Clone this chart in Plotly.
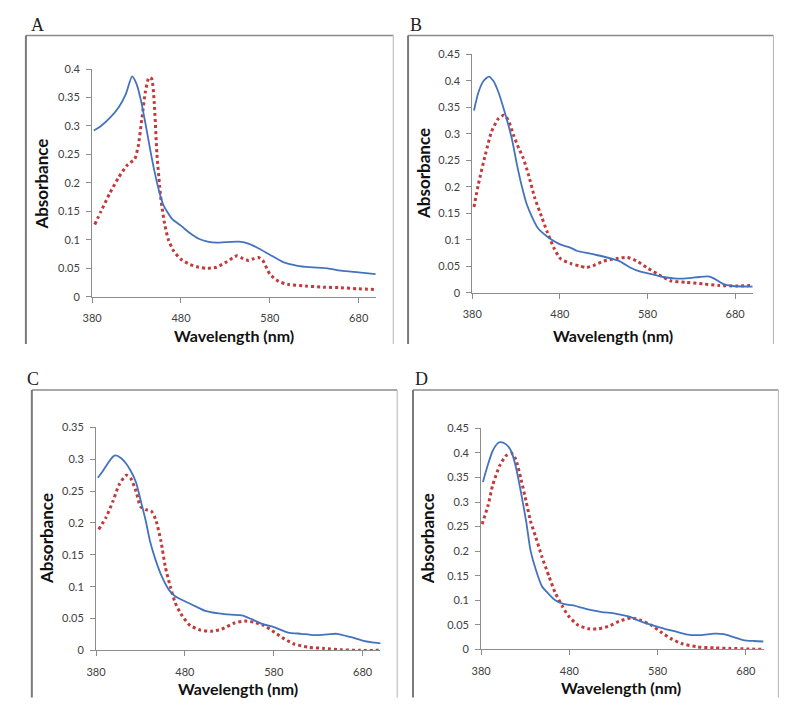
import plotly.graph_objects as go

# ---------------- data ----------------
A_blue_wl = [382, 390, 400, 410, 418, 425, 430, 435, 440, 445, 450, 455, 460, 470, 480, 490, 500, 510, 520, 530, 545, 555, 565, 580, 595, 610, 625, 645, 660, 680, 699]
A_blue = [0.292, 0.300, 0.314, 0.333, 0.356, 0.387, 0.374, 0.345, 0.305, 0.262, 0.222, 0.188, 0.162, 0.137, 0.125, 0.112, 0.102, 0.097, 0.095, 0.096, 0.097, 0.094, 0.087, 0.074, 0.061, 0.055, 0.052, 0.050, 0.046, 0.043, 0.040]
A_red_wl = [383, 390, 400, 410, 420, 428, 432, 436, 440, 444, 447, 450, 453, 456, 458, 462, 466, 472, 480, 490, 500, 508, 520, 532, 543, 550, 556, 562, 567, 572, 580, 590, 600, 620, 640, 660, 680, 699]
A_red = [0.127, 0.150, 0.182, 0.210, 0.232, 0.242, 0.265, 0.312, 0.360, 0.385, 0.383, 0.340, 0.250, 0.195, 0.165, 0.125, 0.100, 0.080, 0.066, 0.057, 0.052, 0.050, 0.052, 0.062, 0.072, 0.067, 0.064, 0.067, 0.069, 0.064, 0.040, 0.027, 0.022, 0.019, 0.017, 0.016, 0.014, 0.013]

B_blue_wl = [382, 387, 393, 399, 404, 410, 417, 425, 431, 436, 442, 448, 455, 465, 474, 481, 491, 500, 512, 523, 538, 549, 560, 572, 583, 598, 613, 628, 639, 649, 655, 666, 677, 700]
B_blue = [0.344, 0.378, 0.400, 0.408, 0.400, 0.378, 0.341, 0.292, 0.242, 0.205, 0.168, 0.144, 0.122, 0.107, 0.097, 0.091, 0.086, 0.079, 0.075, 0.071, 0.065, 0.059, 0.048, 0.040, 0.036, 0.030, 0.027, 0.028, 0.030, 0.031, 0.028, 0.017, 0.013, 0.012]
B_red_wl = [382, 387, 395, 402, 410, 416, 421, 427, 433, 438, 444, 451, 459, 466, 474, 481, 493, 502, 510, 519, 530, 545, 557, 568, 579, 591, 606, 624, 643, 662, 681, 700]
B_red = [0.162, 0.205, 0.261, 0.304, 0.329, 0.335, 0.326, 0.298, 0.273, 0.255, 0.224, 0.181, 0.144, 0.113, 0.082, 0.064, 0.055, 0.051, 0.048, 0.052, 0.060, 0.065, 0.067, 0.060, 0.048, 0.036, 0.023, 0.020, 0.017, 0.014, 0.013, 0.014]

C_blue_wl = [382, 387, 393, 399, 402, 408, 414, 419, 425, 430, 436, 441, 447, 454, 462, 469, 480, 492, 503, 518, 532, 544, 555, 566, 581, 596, 611, 625, 640, 651, 666, 681, 689, 701]
C_blue = [0.271, 0.280, 0.293, 0.304, 0.306, 0.302, 0.293, 0.282, 0.264, 0.237, 0.203, 0.170, 0.142, 0.116, 0.095, 0.085, 0.077, 0.069, 0.062, 0.058, 0.056, 0.055, 0.049, 0.042, 0.036, 0.028, 0.026, 0.024, 0.025, 0.026, 0.021, 0.015, 0.013, 0.011]
C_red_wl = [383, 391, 399, 406, 414, 419, 425, 430, 436, 442, 447, 453, 458, 464, 469, 477, 486, 497, 510, 521, 536, 547, 558, 569, 581, 592, 603, 618, 637, 655, 677, 701]
C_red = [0.190, 0.208, 0.234, 0.260, 0.275, 0.270, 0.250, 0.226, 0.221, 0.219, 0.206, 0.172, 0.131, 0.098, 0.075, 0.054, 0.039, 0.032, 0.030, 0.033, 0.043, 0.046, 0.044, 0.039, 0.028, 0.018, 0.010, 0.005, 0.003, 0.001, 0.000, 0.000]

D_blue_wl = [382, 388, 393, 399, 402, 408, 414, 419, 425, 431, 436, 442, 449, 457, 464, 474, 483, 494, 505, 517, 532, 547, 558, 569, 584, 599, 614, 629, 644, 655, 666, 677, 689, 700]
D_blue = [0.341, 0.378, 0.404, 0.420, 0.422, 0.418, 0.404, 0.374, 0.321, 0.261, 0.201, 0.162, 0.128, 0.112, 0.100, 0.092, 0.090, 0.085, 0.080, 0.076, 0.073, 0.067, 0.059, 0.052, 0.044, 0.037, 0.030, 0.029, 0.032, 0.031, 0.025, 0.019, 0.017, 0.016]
D_red_wl = [381, 388, 393, 401, 408, 414, 419, 425, 431, 436, 442, 449, 457, 464, 472, 479, 490, 502, 513, 524, 539, 550, 561, 573, 584, 595, 607, 625, 644, 663, 681, 700]
D_red = [0.255, 0.294, 0.334, 0.374, 0.394, 0.400, 0.388, 0.348, 0.301, 0.261, 0.228, 0.188, 0.148, 0.115, 0.088, 0.068, 0.049, 0.042, 0.042, 0.047, 0.059, 0.064, 0.059, 0.049, 0.035, 0.022, 0.012, 0.005, 0.003, 0.002, 0.001, 0.000]

panel_labels = ["A", "B", "C", "D"]
y_max = [0.4, 0.45, 0.35, 0.45]
x_ticks = [380, 480, 580, 680]
x_title = "Wavelength (nm)"
y_title = "Absorbance"

# ---------------- layout geometry (pixels in the target picture) ----------------
W, H = 800, 722
OFF = 8  # the page body adds an 8px margin, compensate for it
plot_px = [  # x0, x1, ytop, ybottom of plotting area
    (83, 371, 63, 295),
    (468, 752, 48, 291),
    (87, 375, 428, 655),
    (477, 763, 429, 654),
]
frame_px = [  # left, right, top, bottom
    (16, 388, 29, 343),
    (403, 773, 29, 343),
    (22, 392, 390, 703),
    (408, 778, 390, 703),
]
label_px = [(28, 18), (411, 18), (23, 379), (417, 379)]
xtitle_px = [(227, 334), (611, 334), (231, 694), (619, 693)]
ytitle_px = [(32, 180), (418, 169), (37, 541), (423, 541)]

BLUE = "#4473be"
RED = "#c4393a"
AXIS = "#8c8c8c"
TXT = "#404040"

series = [
    (A_blue_wl, A_blue, A_red_wl, A_red),
    (B_blue_wl, B_blue, B_red_wl, B_red),
    (C_blue_wl, C_blue, C_red_wl, C_red),
    (D_blue_wl, D_blue, D_red_wl, D_red),
]

fig = go.Figure()
layout = dict(
    width=W, height=H, autosize=False,
    margin=dict(l=0, r=0, t=0, b=0),
    paper_bgcolor="white", plot_bgcolor="white",
    showlegend=False,
    shapes=[], annotations=[],
)

def px_x(p):
    return (p - OFF) / W

def px_y(p):
    return 1 - (p - OFF) / H

for i, (bw, bv, rw, rv) in enumerate(series):
    n = "" if i == 0 else str(i + 1)
    xa, ya = "x" + n, "y" + n
    fig.add_trace(go.Scatter(x=rw, y=rv, xaxis=xa, yaxis=ya, mode="lines",
                             line=dict(color=RED, width=3, dash="dot", shape="spline", smoothing=0.6)))
    fig.add_trace(go.Scatter(x=bw, y=bv, xaxis=xa, yaxis=ya, mode="lines",
                             line=dict(color=BLUE, width=1.8, shape="spline", smoothing=0.6)))
    x0, x1, yt, yb = plot_px[i]
    layout["xaxis" + n] = dict(
        domain=[px_x(x0), px_x(x1)], range=[380, 700], anchor=ya,
        tickvals=x_ticks, showline=True, linecolor=AXIS, linewidth=1,
        ticks="outside", ticklen=5, tickcolor=AXIS, showgrid=False, zeroline=False,
        tickfont=dict(family="Lato", size=11, color=TXT), ticklabelstandoff=6,
    )
    layout["yaxis" + n] = dict(
        domain=[px_y(yb), px_y(yt)], range=[0, y_max[i] + 1e-9], anchor=xa,
        dtick=0.05, tick0=0, showline=True, linecolor=AXIS, linewidth=1,
        ticks="outside", ticklen=5, tickcolor=AXIS, showgrid=False, zeroline=False,
        tickfont=dict(family="Lato", size=11, color=TXT), ticklabelstandoff=4,
    )
    fl, fr, ft, fb = frame_px[i]
    layout["shapes"] += [
        dict(type="line", xref="paper", yref="paper", x0=px_x(fl), x1=px_x(fr), y0=px_y(ft), y1=px_y(ft),
             line=dict(color="#8a8a8a", width=1.5)),
        dict(type="line", xref="paper", yref="paper", x0=px_x(fl), x1=px_x(fl), y0=px_y(ft), y1=px_y(fb),
             line=dict(color="#7a7a7a", width=2)),
        dict(type="line", xref="paper", yref="paper", x0=px_x(fr), x1=px_x(fr), y0=px_y(ft), y1=px_y(fb),
             line=dict(color="#b5b5b5", width=1)),
    ]
    lx, ly = label_px[i]
    layout["annotations"].append(dict(text=panel_labels[i], xref="paper", yref="paper",
                                      x=px_x(lx), y=px_y(ly), showarrow=False,
                                      xanchor="center", yanchor="middle",
                                      font=dict(family="Liberation Serif", size=18, color="#222222")))
    tx, ty = xtitle_px[i]
    layout["annotations"].append(dict(text="<b>" + x_title + "</b>", xref="paper", yref="paper",
                                      x=px_x(tx), y=px_y(ty), showarrow=False,
                                      xanchor="center", yanchor="middle",
                                      font=dict(family="Lato", size=16, color="#111111")))
    vx, vy = ytitle_px[i]
    layout["annotations"].append(dict(text="<b>" + y_title + "</b>", xref="paper", yref="paper",
                                      x=px_x(vx), y=px_y(vy), showarrow=False, textangle=-90,
                                      xanchor="center", yanchor="middle",
                                      font=dict(family="Lato", size=17, color="#111111")))

fig.update_layout(**layout)
fig.write_html("out.html")
